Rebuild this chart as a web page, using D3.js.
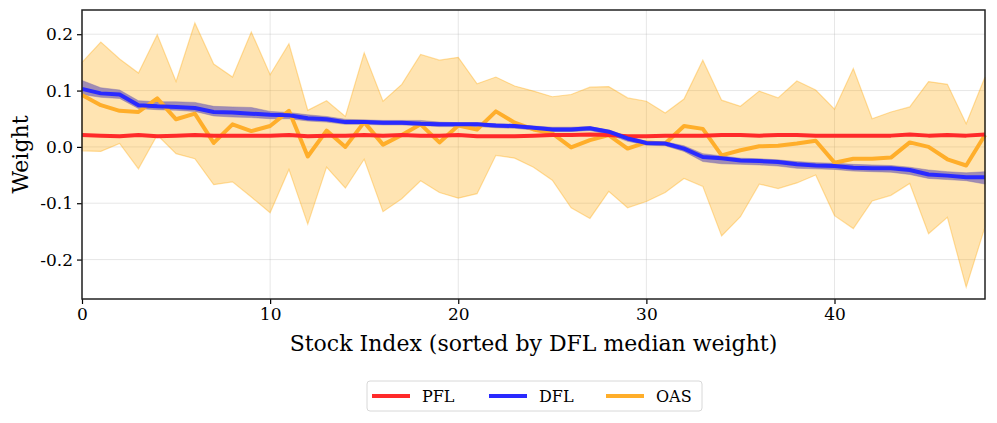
<!DOCTYPE html>
<html>
<head>
<meta charset="utf-8">
<script src="https://cdn.jsdelivr.net/npm/d3@7"></script>
<style>
  body { margin: 0; background: #fff; }
  text { font-family: "DejaVu Serif", serif; }
</style>
</head>
<body>
<script>
var width = 997,
    height = 423;

// values, one per stock index 0..48
var pfl = [0.021,0.020,0.019,0.021,0.019,0.020,0.021,0.020,0.020,0.020,0.020,0.021,0.019,0.020,0.020,0.021,0.020,0.021,0.020,0.020,0.021,0.019,0.019,0.019,0.020,0.021,0.021,0.022,0.021,0.019,0.019,0.020,0.020,0.020,0.021,0.021,0.020,0.021,0.021,0.020,0.020,0.020,0.020,0.020,0.022,0.020,0.021,0.020,0.022];
var dfl = [0.103,0.095,0.093,0.074,0.072,0.071,0.069,0.062,0.061,0.059,0.057,0.056,0.051,0.049,0.044,0.044,0.043,0.043,0.041,0.040,0.040,0.040,0.038,0.037,0.034,0.031,0.031,0.033,0.027,0.015,0.007,0.006,-0.003,-0.018,-0.020,-0.024,-0.025,-0.027,-0.031,-0.033,-0.034,-0.037,-0.038,-0.038,-0.041,-0.049,-0.051,-0.054,-0.054];
var dflHi = [0.118,0.105,0.101,0.082,0.080,0.080,0.079,0.072,0.071,0.070,0.063,0.061,0.057,0.054,0.049,0.048,0.047,0.047,0.047,0.044,0.043,0.043,0.041,0.040,0.037,0.035,0.035,0.036,0.030,0.019,0.010,0.009,0.002,-0.012,-0.016,-0.020,-0.021,-0.023,-0.026,-0.028,-0.029,-0.031,-0.032,-0.033,-0.036,-0.041,-0.044,-0.046,-0.044];
var dflLo = [0.093,0.088,0.086,0.068,0.066,0.065,0.063,0.055,0.053,0.052,0.050,0.050,0.046,0.044,0.040,0.040,0.039,0.039,0.038,0.036,0.036,0.036,0.034,0.033,0.030,0.027,0.027,0.029,0.022,0.010,0.003,0.002,-0.008,-0.026,-0.030,-0.031,-0.032,-0.034,-0.038,-0.039,-0.040,-0.043,-0.044,-0.045,-0.049,-0.056,-0.058,-0.060,-0.066];
var oas = [0.092,0.074,0.064,0.062,0.086,0.049,0.059,0.007,0.040,0.028,0.037,0.064,-0.017,0.029,0.000,0.044,0.004,0.021,0.040,0.008,0.038,0.031,0.063,0.043,0.031,0.024,-0.001,0.012,0.021,-0.003,0.008,0.006,0.037,0.032,-0.015,-0.006,0.001,0.002,0.006,0.011,-0.028,-0.021,-0.021,-0.019,0.008,0.000,-0.022,-0.033,0.021];
var oasHi = [0.150,0.186,0.156,0.131,0.199,0.116,0.220,0.147,0.124,0.204,0.128,0.183,0.065,0.082,0.054,0.167,0.081,0.111,0.164,0.154,0.159,0.112,0.124,0.108,0.099,0.089,0.093,0.106,0.107,0.087,0.081,0.060,0.085,0.154,0.083,0.072,0.099,0.087,0.117,0.101,0.067,0.139,0.050,0.062,0.071,0.116,0.111,0.041,0.124];
var oasLo = [-0.007,-0.008,0.006,-0.039,0.021,-0.012,-0.021,-0.067,-0.062,-0.089,-0.117,-0.040,-0.137,-0.036,-0.073,-0.022,-0.115,-0.092,-0.060,-0.081,-0.091,-0.083,-0.015,-0.020,-0.036,-0.059,-0.108,-0.127,-0.079,-0.108,-0.097,-0.081,-0.056,-0.070,-0.158,-0.124,-0.066,-0.074,-0.064,-0.050,-0.122,-0.145,-0.096,-0.086,-0.065,-0.154,-0.125,-0.249,-0.142];

var xTicks = [0, 10, 20, 30, 40];
var yTicks = [-0.2, -0.1, 0.0, 0.1, 0.2];
var legendNames = ["PFL", "DFL", "OAS"];
var legendColors = ["#ff2a2a", "#2a2aff", "#ffae2a"];

var margin = {left: 82, right: 12, top: 10, bottom: 124};

var svg = d3.select('body')
  .append('svg')
  .attr('width', width)
  .attr('height', height);

var x = d3.scaleLinear()
  .domain([0, pfl.length - 1])
  .range([margin.left, width - margin.right]);

var y = d3.scaleLinear()
  .domain([-0.27, 0.243])
  .range([height - margin.bottom, margin.top]);

// grid
var grid = svg.append('g');
grid.selectAll('.gx')
  .data(xTicks)
  .enter()
  .append('line')
  .attr('x1', d => x(d)).attr('x2', d => x(d))
  .attr('y1', margin.top).attr('y2', height - margin.bottom)
  .attr('stroke', '#b0b0b0').attr('stroke-opacity', 0.3).attr('stroke-width', 1);
grid.selectAll('.gy')
  .data(yTicks)
  .enter()
  .append('line')
  .attr('y1', d => y(d)).attr('y2', d => y(d))
  .attr('x1', margin.left).attr('x2', width - margin.right)
  .attr('stroke', '#b0b0b0').attr('stroke-opacity', 0.3).attr('stroke-width', 1);

var idx = d3.range(pfl.length);

var band = function(lo, hi) {
  return d3.area()
    .x(i => x(i))
    .y0(i => y(lo[i]))
    .y1(i => y(hi[i]));
};
var line = function(vals) {
  return d3.line()
    .x(i => x(i))
    .y(i => y(vals[i]));
};

// OAS band
svg.append('path')
  .datum(idx)
  .attr('d', band(oasLo, oasHi))
  .attr('fill', '#ffa500')
  .attr('fill-opacity', 0.3)
  .attr('stroke', '#ffa500')
  .attr('stroke-opacity', 0.35)
  .attr('stroke-width', 1.2);

// DFL band
svg.append('path')
  .datum(idx)
  .attr('d', band(dflLo, dflHi))
  .attr('fill', '#8f7cb4')
  .attr('fill-opacity', 0.85)
  .attr('stroke', '#7a68a8')
  .attr('stroke-opacity', 0.4)
  .attr('stroke-width', 1);

var series = [pfl, dfl, oas];
// draw OAS first, then PFL, then DFL on top
[2, 0, 1].forEach(function(k) {
  svg.append('path')
    .datum(idx)
    .attr('d', line(series[k]))
    .attr('fill', 'none')
    .attr('stroke', legendColors[k])
    .attr('stroke-width', 4)
    .attr('stroke-linejoin', 'round');
});

// axes
var xAxis = svg.append('g')
  .attr('transform', 'translate(0,' + (height - margin.bottom) + ')')
  .call(d3.axisBottom(x).tickValues(xTicks).tickSize(5).tickPadding(4));
var yAxis = svg.append('g')
  .attr('transform', 'translate(' + margin.left + ',0)')
  .call(d3.axisLeft(y).tickValues(yTicks).tickSize(5).tickPadding(4)
    .tickFormat(d => d3.format('.1f')(d).replace('−', '-')));

[xAxis, yAxis].forEach(function(a) {
  a.select('.domain').remove();
  a.selectAll('text').style('font-size', '17px').attr('fill', '#000').style('font-family', '"DejaVu Serif", serif');
  a.selectAll('line').attr('stroke', '#000').attr('stroke-width', 1.2);
});

// frame
svg.append('rect')
  .attr('x', margin.left).attr('y', margin.top)
  .attr('width', width - margin.left - margin.right)
  .attr('height', height - margin.top - margin.bottom)
  .attr('fill', 'none')
  .attr('stroke', '#222')
  .attr('stroke-width', 1.5);

// labels
svg.append('text')
  .attr('x', (margin.left + width - margin.right) / 2)
  .attr('y', 351)
  .attr('text-anchor', 'middle')
  .style('font-size', '22px')
  .text('Stock Index (sorted by DFL median weight)');

svg.append('text')
  .attr('transform', 'translate(28,' + ((margin.top + height - margin.bottom) / 2) + ') rotate(-90)')
  .attr('text-anchor', 'middle')
  .style('font-size', '22px')
  .text('Weight');

// legend
var legend = svg.append('g').attr('transform', 'translate(367,381)');
legend.append('rect')
  .attr('x', 0).attr('y', 0)
  .attr('width', 335).attr('height', 30)
  .attr('rx', 3)
  .attr('fill', '#fff')
  .attr('stroke', '#d8d8d8')
  .attr('stroke-width', 1);

var items = legend.selectAll('.item')
  .data(legendNames)
  .enter()
  .append('g')
  .attr('transform', (d, i) => 'translate(' + (5 + i * 117) + ',15)');
items.append('line')
  .attr('x1', 0).attr('x2', 38)
  .attr('y1', 0).attr('y2', 0)
  .attr('stroke', (d, i) => legendColors[i])
  .attr('stroke-width', 4);
items.append('text')
  .attr('x', 50)
  .attr('y', 6)
  .style('font-size', '16px')
  .text(d => d);
</script>
</body>
</html>
